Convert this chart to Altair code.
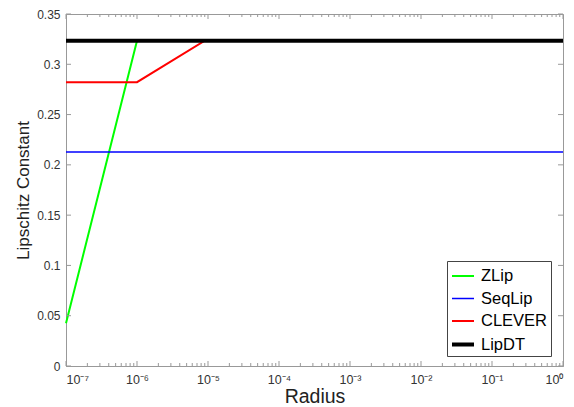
import altair as alt
import pandas as pd

series = ["ZLip", "SeqLip", "CLEVER", "LipDT"]
colors = ["#00ff00", "#0000ff", "#ff0000", "#000000"]
widths = [2, 1.5, 2, 4]

zlip_x = [1e-7, 1e-6, 1.0]
zlip_y = [0.0424, 0.3235, 0.3235]
seqlip_x = [1e-7, 1.0]
seqlip_y = [0.2128, 0.2128]
clever_x = [1e-7, 1e-6, 9e-6, 1.0]
clever_y = [0.2822, 0.2822, 0.3235, 0.3235]
lipdt_x = [1e-7, 1.0]
lipdt_y = [0.3235, 0.3235]

y_ticks = [0, 0.05, 0.1, 0.15, 0.2, 0.25, 0.3, 0.35]
x_major = [1e-7, 1e-6, 1e-5, 1e-4, 1e-3, 1e-2, 1e-1, 1.0]
x_minor = [m * 10.0 ** e for e in range(-7, 0) for m in range(2, 10)]

rows = []
for name, xs, ys in [("ZLip", zlip_x, zlip_y), ("SeqLip", seqlip_x, seqlip_y),
                     ("CLEVER", clever_x, clever_y), ("LipDT", lipdt_x, lipdt_y)]:
    for i, (a, b) in enumerate(zip(xs, ys)):
        rows.append({"series": name, "r": a, "L": b, "i": i})
df = pd.DataFrame(rows)

W, H = 497, 352
FONT = "Liberation Sans"
GRAY = "#999999"

xscale = alt.Scale(type="log", domain=[1e-7, 1.0])
yscale = alt.Scale(domain=[0, 0.35], nice=False, zero=False)

label_expr = ("'10' + (round(log(datum.value)/LN10) < 0 ? '⁻' : '') + "
              "substring('⁰¹²³⁴⁵⁶⁷⁸⁹', abs(round(log(datum.value)/LN10)), abs(round(log(datum.value)/LN10))+1)")

legend = alt.Legend(orient="none", legendX=381, legendY=247, title=None,
                    symbolType="stroke", symbolSize=484, labelFontSize=16.5,
                    labelFont=FONT, labelColor="#000", fillColor="white",
                    strokeColor="#444", padding=3, rowPadding=1.5,
                    labelOffset=5)

lines = alt.Chart(df).mark_line().encode(
    x=alt.X("r:Q", scale=xscale, title="Radius",
            axis=alt.Axis(values=x_major, labelExpr=label_expr, ticks=False,
                          grid=False, domainColor=GRAY, labelFont=FONT,
                          labelFontSize=12.5, labelColor="#333", labelPadding=7,
                          titleFont=FONT, titleFontSize=19.5, titleFontWeight="normal",
                          titleColor="#222", titlePadding=2)),
    y=alt.Y("L:Q", scale=yscale, title="Lipschitz Constant",
            axis=alt.Axis(values=y_ticks, format="~g", ticks=False, grid=False,
                          domainColor=GRAY, labelFont=FONT, labelFontSize=12,
                          labelColor="#333", labelPadding=6,
                          titleFont=FONT, titleFontSize=17, titleFontWeight="normal",
                          titleColor="#222", titlePadding=4)),
    color=alt.Color("series:N", scale=alt.Scale(domain=series, range=colors), legend=legend),
    strokeWidth=alt.StrokeWidth("series:N", scale=alt.Scale(type="ordinal", domain=series, range=widths), legend=legend),
    order="i:Q",
)

ytick_df = pd.DataFrame({"v": y_ticks})
xmaj_df = pd.DataFrame({"v": x_major})
xmin_df = pd.DataFrame({"v": x_minor})

def yticks(x0, x1):
    return alt.Chart(ytick_df).mark_rule(color=GRAY, strokeWidth=1).encode(
        y=alt.Y("v:Q", scale=yscale), x=alt.value(x0), x2=alt.value(x1))

def xticks(d, y0, y1):
    return alt.Chart(d).mark_rule(color=GRAY, strokeWidth=1).encode(
        x=alt.X("v:Q", scale=xscale), y=alt.value(y0), y2=alt.value(y1))

chart = alt.layer(
    lines,
    yticks(0, 5), yticks(W - 5, W),
    xticks(xmaj_df, H, H - 5), xticks(xmin_df, H, H - 3),
    xticks(xmaj_df, 0, 5), xticks(xmin_df, 0, 3),
).properties(
    width=W, height=H, autosize="none",
    padding={"left": 58, "top": 6, "right": 3, "bottom": 40},
).configure_view(stroke=GRAY, strokeWidth=1)

chart.save("out.html", embed_options={"renderer": "svg", "actions": False})
